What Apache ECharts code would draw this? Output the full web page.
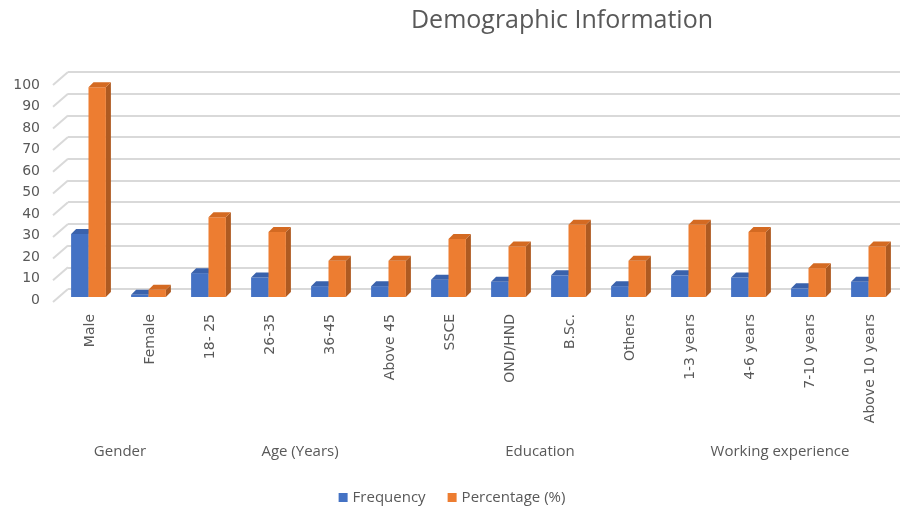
<!DOCTYPE html>
<html>
<head>
<meta charset="utf-8">
<script src="https://cdn.jsdelivr.net/npm/echarts@6/dist/echarts.min.js"></script>
<style>
  html, body { margin: 0; padding: 0; background: #fff; }
  #chart { width: 904px; height: 512px; }
</style>
</head>
<body>
<div id="chart"></div>
<script>
// data
const categories = ['Male', 'Female', '18- 25', '26-35', '36-45', 'Above 45', 'SSCE', 'OND/HND', 'B.Sc.', 'Others', '1-3 years', '4-6 years', '7-10 years', 'Above 10 years'];
const frequency = [29, 1, 11, 9, 5, 5, 8, 7, 10, 5, 10, 9, 4, 7];
const percentage = [96.7, 3.3, 36.7, 30, 16.7, 16.7, 26.7, 23.3, 33.3, 16.7, 33.3, 30, 13.3, 23.3];
// group label sits at the middle of its categories (index position)
const groups = { '0.5': 'Gender', '3.5': 'Age (Years)', '7.5': 'Education', '11.5': 'Working experience' };
const yTicks = [0, 100, 10];
const gridValues = [0, 10, 20, 30, 40, 50, 60, 70, 80, 90, 100];

const chart = echarts.init(document.getElementById('chart'));

// 3D-looking column: front face, darker right side, top face
function bar3d(colors, startFrac, widthFrac) {
  return function (params, api) {
    const i = api.value(0);
    const v = api.value(1);
    const top = api.coord([i, v]);
    const base = api.coord([i, 0]);
    const band = api.size([1, 0])[0];
    const x0 = top[0] + startFrac * band;
    const x1 = x0 + widthFrac * band;
    const dx = 5, dy = -5;
    const yT = top[1], yB = base[1];
    return {
      type: 'group',
      children: [
        { type: 'polygon', shape: { points: [[x1, yT], [x1 + dx, yT + dy], [x1 + dx, yB + dy], [x1, yB]] },
          style: { fill: colors[1] } },
        { type: 'rect', shape: { x: x0, y: yT, width: x1 - x0, height: yB - yT },
          style: { fill: colors[0] } },
        { type: 'polygon', shape: { points: [[x0, yT], [x0 + dx, yT + dy], [x1 + dx, yT + dy], [x1, yT]] },
          style: { fill: colors[2] } }
      ]
    };
  };
}

// short slanted piece at the left end of each gridline (side wall edge)
function wallEdge(params, api) {
  const p = api.coord([0, api.value(0)]);
  const x = params.coordSys.x;
  return {
    type: 'line',
    shape: { x1: x, y1: p[1], x2: x - 15, y2: p[1] + 13 },
    style: { stroke: '#d9d9d9', lineWidth: 2 }
  };
}

const textColor = '#595959';

chart.setOption({
  animation: false,
  title: {
    text: 'Demographic Information',
    left: 557, top: 3,
    textAlign: 'center',
    textStyle: { color: textColor, fontSize: 25, fontWeight: 'normal', fontFamily: 'Open Sans' }
  },
  legend: {
    bottom: 2, left: 'center',
    itemWidth: 9, itemHeight: 9, itemGap: 22,
    icon: 'rect',
    textStyle: { color: textColor, fontSize: 15, fontFamily: 'Open Sans' },
    data: ['Frequency', 'Percentage (%)']
  },
  grid: [
    { left: 60, right: 4, top: 80, bottom: 215 },
    { left: 68, right: 4, top: 72, bottom: 223 },
    // front edge, only for the value labels
    { left: 60, right: 4, top: 85, bottom: 212 }
  ],
  xAxis: [
    {
      type: 'category', gridIndex: 0, data: categories,
      axisLine: { show: false }, axisTick: { show: false },
      axisLabel: { rotate: 90, margin: 17, color: textColor, fontSize: 14, fontFamily: 'DejaVu Sans', interval: 0 }
    },
    {
      type: 'value', gridIndex: 0, position: 'bottom',
      min: -0.5, max: 13.5, interval: 1,
      axisLine: { show: false }, axisTick: { show: false }, splitLine: { show: false },
      axisLabel: {
        margin: 147, color: textColor, fontSize: 15, fontFamily: 'Open Sans',
        showMinLabel: true, showMaxLabel: true,
        formatter: v => groups[String(v)] || ''
      }
    },
    { type: 'category', gridIndex: 1, data: categories, show: false },
    { type: 'category', gridIndex: 2, data: categories, show: false }
  ],
  yAxis: [
    {
      type: 'value', gridIndex: 0, min: yTicks[0], max: yTicks[1], interval: yTicks[2],
      show: false
    },
    {
      type: 'value', gridIndex: 1, min: yTicks[0], max: yTicks[1], interval: yTicks[2],
      axisLine: { show: false }, axisTick: { show: false }, axisLabel: { show: false },
      splitLine: { lineStyle: { color: '#d9d9d9', width: 2 } }
    },
    {
      type: 'value', gridIndex: 2, min: yTicks[0], max: yTicks[1], interval: yTicks[2],
      axisLine: { show: false }, axisTick: { show: false }, splitLine: { show: false },
      axisLabel: { margin: 20, color: textColor, fontSize: 14, fontFamily: 'DejaVu Sans' }
    }
  ],
  series: [
    {
      name: 'wall', type: 'custom', xAxisIndex: 2, yAxisIndex: 1,
      renderItem: wallEdge, silent: true,
      encode: { y: 0 },
      data: gridValues.map(v => [v])
    },
    {
      name: 'Frequency', type: 'custom', xAxisIndex: 0, yAxisIndex: 0,
      itemStyle: { color: '#4472C4' },
      renderItem: bar3d(['#4472C4', '#2F5597', '#3A62AC'], -0.315, 0.29),
      encode: { x: 0, y: 1 },
      data: frequency.map((v, i) => [i, v])
    },
    {
      name: 'Percentage (%)', type: 'custom', xAxisIndex: 0, yAxisIndex: 0,
      itemStyle: { color: '#ED7D31' },
      renderItem: bar3d(['#ED7D31', '#AE5A21', '#D46A22'], -0.025, 0.29),
      encode: { x: 0, y: 1 },
      data: percentage.map((v, i) => [i, v])
    }
  ]
});
</script>
</body>
</html>
